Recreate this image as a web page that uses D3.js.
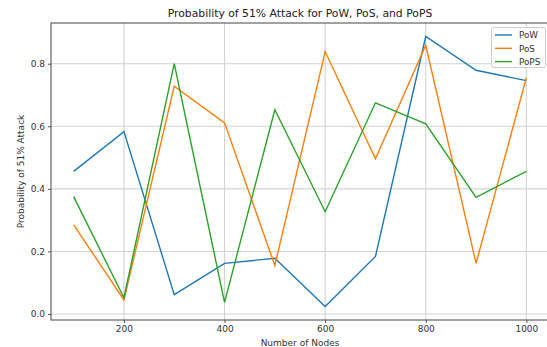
<!DOCTYPE html>
<html><head><meta charset="utf-8">
<script src="https://cdn.jsdelivr.net/npm/d3@7"></script>
<style>body{margin:0;background:#fff}svg{display:block;font-family:"DejaVu Sans",sans-serif}</style>
</head><body>
<script>
const nodes = [100,200,300,400,500,600,700,800,900,1000];
const pow  = [0.456,0.583,0.062,0.162,0.178,0.024,0.184,0.887,0.779,0.746];
const pos  = [0.285,0.045,0.728,0.611,0.155,0.839,0.496,0.859,0.162,0.755];
const pops = [0.375,0.052,0.800,0.037,0.653,0.327,0.675,0.608,0.373,0.456];
const seriesNames = ["PoW","PoS","PoPS"];
const colors = ["#1f77b4","#ff7f0e","#2ca02c"];
const xTicks = [200,400,600,800,1000];
const yTicks = [0,0.2,0.4,0.6,0.8];

const W=547,H=347, L=51, R=549, T=23, B=320;
const svg=d3.select("body").append("svg").attr("width",W).attr("height",H);
const all=[...pow,...pos,...pops];
const ymin=d3.min(all), ymax=d3.max(all), yp=(ymax-ymin)*0.05;
const xmin=d3.min(nodes), xmax=d3.max(nodes), xp=(xmax-xmin)*0.05;
const x=d3.scaleLinear().domain([xmin-xp,xmax+xp]).range([L,R]);
const y=d3.scaleLinear().domain([ymin-yp,ymax+yp]).range([B,T]);

// grid
const g=svg.append("g");
g.selectAll(".vg").data(xTicks).join("line").attr("x1",d=>x(d)).attr("x2",d=>x(d)).attr("y1",T).attr("y2",B).attr("stroke","#d3d3d3").attr("stroke-width",1.1);
g.selectAll(".hg").data(yTicks).join("line").attr("y1",d=>y(d)).attr("y2",d=>y(d)).attr("x1",L).attr("x2",R).attr("stroke","#d3d3d3").attr("stroke-width",1.1);

// axes
const xa=svg.append("g").attr("transform",`translate(0,${B})`).call(d3.axisBottom(x).tickValues(xTicks).tickFormat(d3.format("d")).tickSize(3).tickPadding(3));
const ya=svg.append("g").attr("transform",`translate(${L},0)`).call(d3.axisLeft(y).tickValues(yTicks).tickFormat(d3.format(".1f")).tickSize(3).tickPadding(3));
[xa,ya].forEach(a=>{a.select(".domain").remove();a.selectAll("text").attr("font-size",9).attr("fill","#333").attr("font-family","DejaVu Sans");a.selectAll("line").attr("stroke","#555");});
svg.append("rect").attr("x",L).attr("y",T).attr("width",R-L).attr("height",B-T).attr("fill","none").attr("stroke","#444").attr("stroke-width",1);

// lines
const line=d3.line().x((d,i)=>x(nodes[i])).y(d=>y(d));
[pow,pos,pops].forEach((s,i)=>{
  svg.append("path").datum(s).attr("d",line).attr("fill","none").attr("stroke",colors[i]).attr("stroke-width",1.4);
});

// title & labels
svg.append("text").attr("x",(L+R)/2).attr("y",17).attr("text-anchor","middle").attr("font-size",10.8).attr("fill","#222").text("Probability of 51% Attack for PoW, PoS, and PoPS");
svg.append("text").attr("x",(L+R)/2).attr("y",346).attr("text-anchor","middle").attr("font-size",9).attr("fill","#333").text("Number of Nodes");
svg.append("text").attr("transform",`translate(24,${(T+B)/2}) rotate(-90)`).attr("text-anchor","middle").attr("font-size",9).attr("fill","#333").text("Probability of 51% Attack");

// legend
const lg=svg.append("g");
lg.append("rect").attr("x",491.5).attr("y",27.5).attr("width",54).attr("height",40).attr("rx",2).attr("fill","#fff").attr("fill-opacity",0.8).attr("stroke","#ccc");
seriesNames.forEach((n,i)=>{
  const yy=35+i*13.3;
  lg.append("line").attr("x1",495).attr("x2",512).attr("y1",yy).attr("y2",yy).attr("stroke",colors[i]).attr("stroke-width",1.4);
  lg.append("text").attr("x",519).attr("y",yy+3.2).attr("font-size",8.8).attr("fill","#333").text(n);
});
</script>
</body></html>
